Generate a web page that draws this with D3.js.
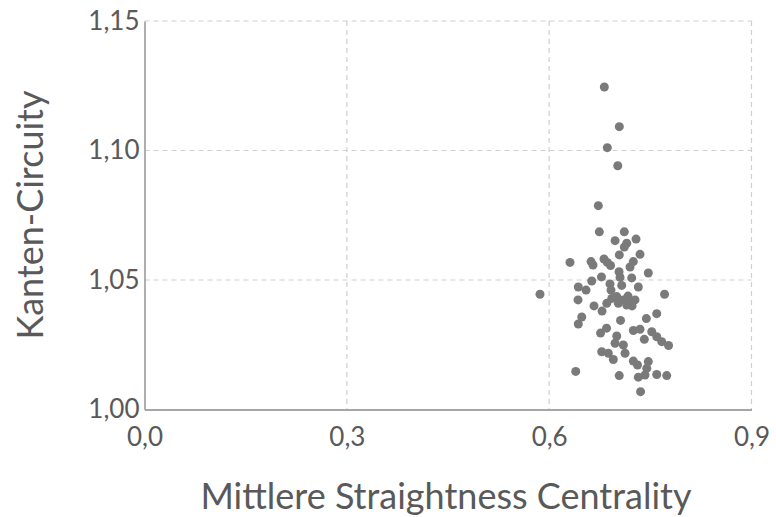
<!DOCTYPE html>
<html>
<head>
<meta charset="utf-8">
<script src="https://cdn.jsdelivr.net/npm/d3@7"></script>
<style>
  html, body { margin: 0; padding: 0; background: #ffffff; }
  svg { display: block; }
  text { font-family: "Lato", "Open Sans", sans-serif; }
</style>
</head>
<body>
<div id="chart"></div>
<script>
// Data: Mittlere Straightness Centrality (x) vs Kanten-Circuity (y)
const xValues = [
  0.6818, 0.7040, 0.6862, 0.7017, 0.6729, 0.6744, 0.7114, 0.6977, 0.7288, 0.7150,
  0.7114, 0.7040, 0.7347, 0.6309, 0.6621, 0.6650, 0.6813, 0.6862, 0.6910, 0.7248,
  0.7199, 0.7036, 0.7470, 0.6776, 0.6631, 0.7051, 0.7224, 0.6432, 0.6547, 0.6902,
  0.6917, 0.7076, 0.7322, 0.5864, 0.7711, 0.6428, 0.6665, 0.6784, 0.6854, 0.6928,
  0.7002, 0.7100, 0.7199, 0.7273, 0.7025, 0.7150, 0.7169, 0.7229, 0.6483, 0.6432,
  0.7058, 0.7441, 0.7595, 0.6762, 0.6851, 0.7002, 0.6977, 0.7248, 0.7347, 0.7411,
  0.7521, 0.7595, 0.7669, 0.7770, 0.6779, 0.6877, 0.6951, 0.7100, 0.7125, 0.7248,
  0.7310, 0.7470, 0.7447, 0.6394, 0.7039, 0.7322, 0.7421, 0.7595, 0.7743, 0.7355
];
const yValues = [
  1.1245, 1.1092, 1.1011, 1.0941, 1.0787, 1.0686, 1.0686, 1.0652, 1.0658, 1.0642,
  1.0627, 1.0597, 1.0599, 1.0568, 1.0571, 1.0558, 1.0581, 1.0568, 1.0556, 1.0571,
  1.0550, 1.0532, 1.0527, 1.0512, 1.0496, 1.0510, 1.0508, 1.0473, 1.0461, 1.0485,
  1.0461, 1.0479, 1.0473, 1.0445, 1.0445, 1.0423, 1.0400, 1.0380, 1.0410, 1.0429,
  1.0436, 1.0423, 1.0416, 1.0423, 1.0410, 1.0403, 1.0438, 1.0400, 1.0357, 1.0330,
  1.0344, 1.0351, 1.0370, 1.0295, 1.0314, 1.0284, 1.0256, 1.0305, 1.0310, 1.0271,
  1.0300, 1.0281, 1.0262, 1.0247, 1.0223, 1.0217, 1.0193, 1.0249, 1.0217, 1.0187,
  1.0172, 1.0185, 1.0159, 1.0147, 1.0131, 1.0125, 1.0133, 1.0135, 1.0131, 1.0069
];
const xTicks = [0.0, 0.3, 0.6, 0.9];
const yTicks = [1.00, 1.05, 1.10, 1.15];
const xTitle = "Mittlere Straightness Centrality";
const yTitle = "Kanten-Circuity";

const points = xValues.map((x, i) => ({ x: x, y: yValues[i] }));

const W = 776, H = 517;
const margin = { left: 144.5, right: 24.5, top: 21, bottom: 107.5 };
const svg = d3.select("#chart").append("svg").attr("width", W).attr("height", H);

const x = d3.scaleLinear().domain([0, 0.9]).range([margin.left, W - margin.right]);
const y = d3.scaleLinear().domain([1.00, 1.15]).range([H - margin.bottom, margin.top]);

const fmt = d => d3.format(".1f")(d).replace(".", ",");
const fmtY = d => d3.format(".2f")(d).replace(".", ",");

// gridlines
svg.append("g").selectAll("line.hg")
  .data(yTicks.filter(t => t > 1.0))
  .join("line")
  .attr("x1", x(0)).attr("x2", x(0.9))
  .attr("y1", d => y(d)).attr("y2", d => y(d))
  .attr("stroke", "#cfcfcf").attr("stroke-width", 1.2)
  .attr("stroke-dasharray", "5,4");
svg.append("g").selectAll("line.vg")
  .data(xTicks.filter(t => t > 0))
  .join("line")
  .attr("x1", d => x(d)).attr("x2", d => x(d))
  .attr("y1", y(1.15)).attr("y2", y(1.0))
  .attr("stroke", "#cfcfcf").attr("stroke-width", 1.2)
  .attr("stroke-dasharray", "5,4");

// axes
const xAxis = d3.axisBottom(x).tickValues(xTicks).tickFormat(fmt).tickSize(0).tickPadding(18);
const yAxis = d3.axisLeft(y).tickValues(yTicks).tickFormat(fmtY).tickSize(0).tickPadding(5);

const gx = svg.append("g").attr("transform", `translate(0,${y(1.0)})`).call(xAxis);
const gy = svg.append("g").attr("transform", `translate(${x(0)},0)`).call(yAxis);
[gx, gy].forEach(g => {
  g.select(".domain").attr("stroke", "#a6a6a6").attr("stroke-width", 1.8);
  g.selectAll("text").attr("fill", "#595959").style("font-size", "26px")
    .style("font-family", "Lato, 'Open Sans', sans-serif");
});

// points
svg.append("g").selectAll("circle")
  .data(points)
  .join("circle")
  .attr("cx", d => x(d.x))
  .attr("cy", d => y(d.y))
  .attr("r", 4.5)
  .attr("fill", "#7a7a7a");

// titles
svg.append("text")
  .attr("x", 446)
  .attr("y", 509)
  .attr("text-anchor", "middle")
  .attr("fill", "#595959")
  .style("font-size", "36px")
  .text(xTitle);

svg.append("text")
  .attr("transform", `translate(43,215) rotate(-90)`)
  .attr("text-anchor", "middle")
  .attr("fill", "#595959")
  .style("font-size", "36px")
  .text(yTitle);
</script>
</body>
</html>
